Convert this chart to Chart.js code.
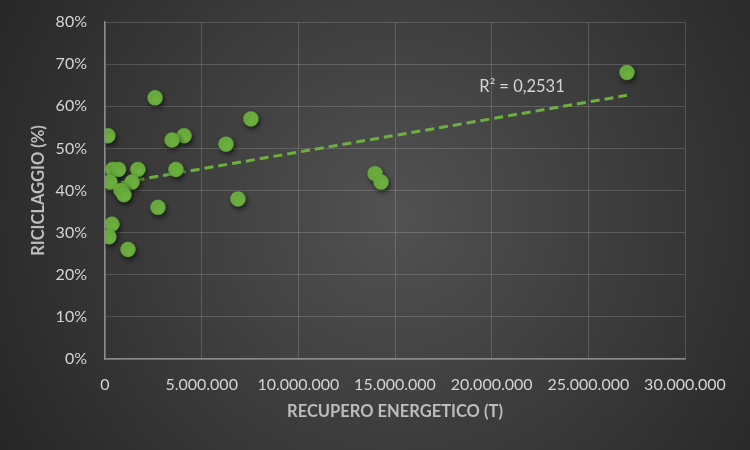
<!DOCTYPE html>
<html>
<head>
<meta charset="utf-8">
<script src="https://cdn.jsdelivr.net/npm/chart.js@4/dist/chart.umd.min.js"></script>
<style>
  html, body { margin: 0; padding: 0; background: #2b2b2b; }
  #wrap { width: 750px; height: 450px; }
</style>
</head>
<body>
<div id="wrap"><canvas id="canvas" width="750" height="450"></canvas></div>
<script>
// recupero energetico (t) vs riciclaggio (%)
const recupero = [150000, 2590000, 7550000, 4090000, 3470000, 6260000, 400000, 700000, 1700000, 3670000,
  260000, 1400000, 830000, 980000, 2740000, 6880000, 13970000, 14280000, 360000, 200000, 1190000, 27000000];
const riciclaggio = [53, 62, 57, 53, 52, 51, 45, 45, 45, 45,
  42, 42, 40, 39, 36, 38, 44, 42, 32, 29, 26, 68];
const xTicks = [0, 5000000, 10000000, 15000000, 20000000, 25000000, 30000000];
const yTicks = [0, 10, 20, 30, 40, 50, 60, 70, 80];
const r2Label = 'R² = 0,2531';

const green = '#6cb03f';
const fontName = 'Lato, "Open Sans", sans-serif';

// linear trend (least squares) from the data
function trend(xs, ys) {
  const n = xs.length;
  const mx = xs.reduce((a, b) => a + b, 0) / n;
  const my = ys.reduce((a, b) => a + b, 0) / n;
  let sxy = 0, sxx = 0;
  for (let i = 0; i < n; i++) {
    sxy += (xs[i] - mx) * (ys[i] - my);
    sxx += (xs[i] - mx) * (xs[i] - mx);
  }
  const b = sxy / sxx, a = my - b * mx;
  const x0 = Math.min(...xs), x1 = Math.max(...xs);
  return [{x: x0, y: a + b * x0}, {x: x1, y: a + b * x1}];
}

const points = recupero.map((x, i) => ({x: x, y: riciclaggio[i]}));

const bgPlugin = {
  id: 'bg',
  beforeDraw(chart) {
    const ctx = chart.ctx;
    const g = ctx.createRadialGradient(395, 215, 0, 395, 215, 460);
    g.addColorStop(0, '#525252');
    g.addColorStop(1, '#262626');
    ctx.save();
    ctx.fillStyle = g;
    ctx.fillRect(0, 0, chart.width, chart.height);
    ctx.restore();
  }
};

const shadowPlugin = {
  id: 'shadow',
  beforeDatasetDraw(chart, args) {
    if (args.index === 0) {
      const ctx = chart.ctx;
      ctx.save();
      ctx.shadowColor = 'rgba(0,0,0,0.55)';
      ctx.shadowBlur = 4;
      ctx.shadowOffsetX = 1.5;
      ctx.shadowOffsetY = 2.5;
    }
  },
  afterDatasetDraw(chart, args) {
    if (args.index === 0) chart.ctx.restore();
  }
};

const r2Plugin = {
  id: 'r2',
  afterDatasetsDraw(chart) {
    const ctx = chart.ctx;
    const xs = chart.scales.x, ys = chart.scales.y;
    ctx.save();
    ctx.font = '16.5px ' + fontName;
    ctx.fillStyle = '#d4d4d4';
    ctx.textAlign = 'center';
    ctx.textBaseline = 'middle';
    ctx.fillText(r2Label, xs.getPixelForValue(21570000), ys.getPixelForValue(64.6));
    ctx.restore();
  }
};

new Chart(document.getElementById('canvas'), {
  type: 'scatter',
  data: {
    datasets: [{
      label: 'Riciclaggio',
      data: points,
      backgroundColor: green,
      borderColor: '#63a637',
      borderWidth: 0.5,
      pointRadius: 7.5,
      order: 0
    }, {
      label: 'Tendenza',
      type: 'line',
      data: trend(recupero, riciclaggio),
      borderColor: green,
      borderWidth: 3,
      borderDash: [9, 5],
      pointRadius: 0,
      fill: false,
      order: 1
    }]
  },
  options: {
    responsive: false,
    animation: false,
    devicePixelRatio: 1,
    layout: {padding: {left: 29, right: 65, top: 22, bottom: 28}},
    plugins: {legend: {display: false}, tooltip: {enabled: false}},
    scales: {
      x: {
        type: 'linear',
        min: 0, max: 30000000,
        afterBuildTicks(s) { s.ticks = xTicks.map(v => ({value: v})); },
        afterFit(s) { s.height = 63; },
        grid: {color: 'rgba(255,255,255,0.16)', lineWidth: 1, drawTicks: false},
        border: {color: '#8a8a8a', width: 1.5},
        ticks: {
          padding: 16,
          color: '#d4d4d4',
          font: {family: fontName, size: 16},
          maxRotation: 0,
          callback: v => v.toLocaleString('de-DE')
        },
        title: {
          display: true,
          text: 'RECUPERO ENERGETICO (T)',
          color: '#bdbdbd',
          font: {family: fontName, size: 16.5, weight: 'bold'},
          padding: 0
        }
      },
      y: {
        min: 0, max: 80,
        afterBuildTicks(s) { s.ticks = yTicks.map(v => ({value: v})); },
        afterFit(s) { s.width = 76; s.paddingTop = 10; s.paddingBottom = 10; },
        grid: {color: 'rgba(255,255,255,0.16)', lineWidth: 1, drawTicks: false},
        border: {color: '#8a8a8a', width: 1.5},
        ticks: {
          padding: 18,
          color: '#d4d4d4',
          font: {family: fontName, size: 16},
          callback: v => v + '%'
        },
        title: {
          display: true,
          text: 'RICICLAGGIO (%)',
          color: '#bdbdbd',
          font: {family: fontName, size: 16.5, weight: 'bold'},
          padding: 0
        }
      }
    }
  },
  plugins: [bgPlugin, shadowPlugin, r2Plugin]
});
</script>
</body>
</html>
